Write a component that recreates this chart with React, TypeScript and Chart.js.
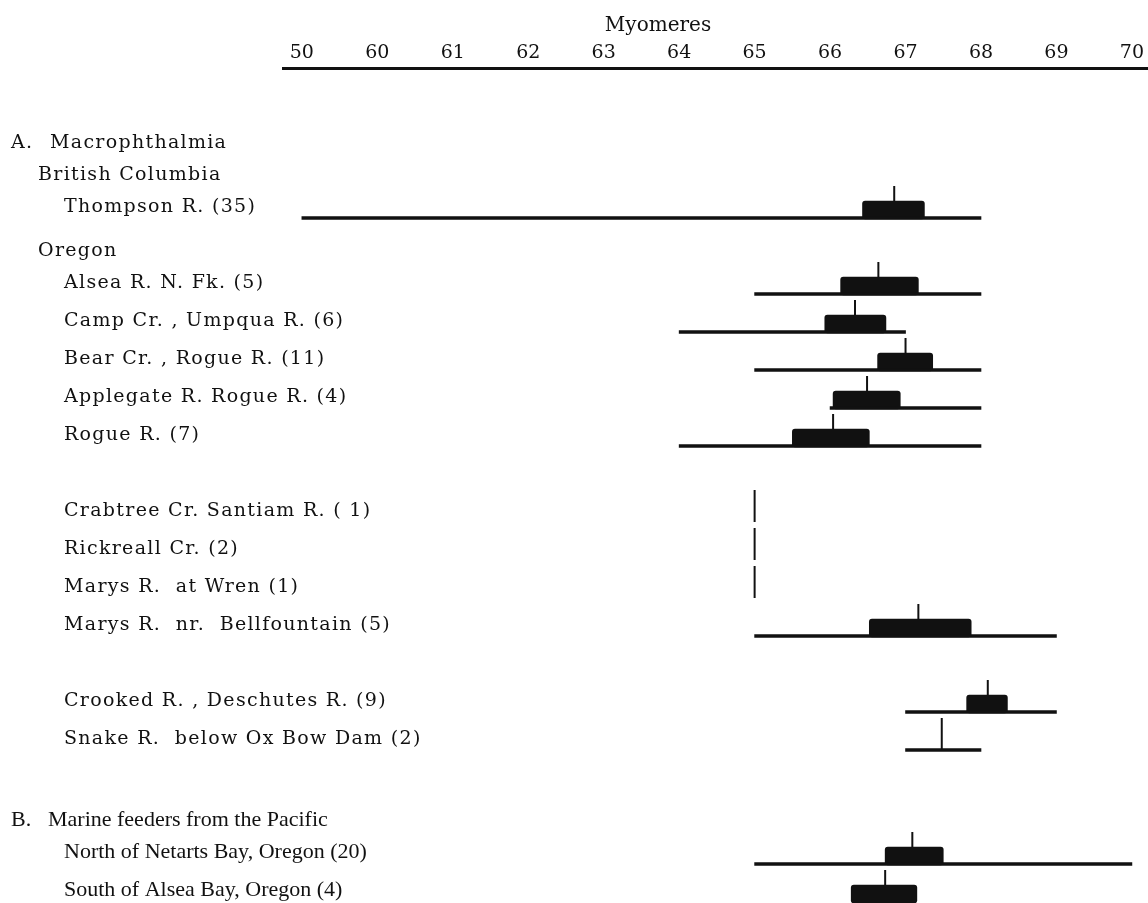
import React, { useEffect, useRef } from "react";
import { Chart, registerables } from "chart.js";

Chart.register(...registerables);

// Myomere scale; the first division is printed "50" on the figure
const TICK_VALUES = [59, 60, 61, 62, 63, 64, 65, 66, 67, 68, 69, 70];
const TICK_LABELS = ["50", "60", "61", "62", "63", "64", "65", "66", "67", "68", "69", "70"];
const AXIS_TITLE = "Myomeres";

// Vertical order of the list; "" is a blank line between groups
const ROWS = [
  "Thompson R. (35)",
  "",
  "Alsea R. N. Fk. (5)",
  "Camp Cr. , Umpqua R. (6)",
  "Bear Cr. , Rogue R. (11)",
  "Applegate R. Rogue R. (4)",
  "Rogue R. (7)",
  "",
  "Crabtree Cr. Santiam R. ( 1)",
  "Rickreall Cr. (2)",
  "Marys R.  at Wren (1)",
  "Marys R.  nr.  Bellfountain (5)",
  "",
  "Crooked R. , Deschutes R. (9)",
  "Snake R.  below Ox Bow Dam (2)",
  "",
  "",
  "North of Netarts Bay, Oregon (20)",
  "South of Alsea Bay, Oregon (4)",
];

const SAMPLES = ROWS.filter((r) => r !== "");

// Per sample, in SAMPLES order: observed range, box, mean
const RANGE_MIN = [59, 65, 64, 65, 66, 64, null, null, null, 65, 67, 67, 65, null];
const RANGE_MAX = [68, 68, 67, 68, 68, 68, null, null, null, 69, 69, 68, 70, null];
const BOX_LOW = [66.43, 66.14, 65.93, 66.63, 66.04, 65.5, null, null, null, 66.52, 67.81, null, 66.73, 66.28];
const BOX_HIGH = [67.25, 67.17, 66.74, 67.36, 66.93, 66.52, null, null, null, 67.87, 68.35, null, 67.5, 67.15];
const MEANS = [66.85, 66.64, 66.33, 67.0, 66.49, 66.04, 65, 65, 65, 67.17, 68.09, 67.48, 67.09, 66.73];
const SECTION = ["A", "A", "A", "A", "A", "A", "A", "A", "A", "A", "A", "A", "B", "B"];

// Group headings, stacked above the first sample of their group
const HEADING_MARKS = ["A.", "", "", "B."];
const HEADING_TEXTS = ["Macrophthalmia", "British Columbia", "Oregon", "Marine feeders from the Pacific"];
const HEADING_BEFORE = [
  "Thompson R. (35)",
  "Thompson R. (35)",
  "Alsea R. N. Fk. (5)",
  "North of Netarts Bay, Oregon (20)",
];
const HEADING_LINES_ABOVE = [2, 1, 1, 1];
const HEADING_SECTION = ["A", "A", "A", "B"];

// Page geometry
const W = 1148;
const H = 903;
const AXIS_BAND = 68;
const ROW_PX = 38;
const FIRST_ROW_Y = 218;
const PLOT_LEFT = 283;
const X_MIN = 58.75;
const X_MAX = 70.2;
const Y_MIN = -(FIRST_ROW_Y - AXIS_BAND) / ROW_PX;
const Y_MAX = Y_MIN + (H - AXIS_BAND) / ROW_PX;

// Mark sizes (px)
const RANGE_PX = 3;
const BOX_PX = 18;
const BOX_LIFT = 8;
const TICK_PX = 32;
const TICK_W = 2;

// Text layout
const INK = "#111111";
const MARK_X = 11;
const HEAD0_X = { A: 50, B: 48 };
const HEAD1_X = 38;
const SAMPLE_X = 64;
const BASELINE_RAISE = 6;
const HEADING_LEADING = 32;
const TITLE_X = 658;
const TITLE_BASELINE = 31;
const FONTS = {
  A: { font: '19px "DejaVu Serif"', spacing: "1.3px" },
  B: { font: '22px "Liberation Serif"', spacing: "0px" },
};

const slotOf = (label: string) => ROWS.indexOf(label);

const rangeData = SAMPLES.flatMap((s, i) =>
  RANGE_MIN[i] == null ? [] : [{ y: slotOf(s), x: [RANGE_MIN[i], RANGE_MAX[i]] }]
);
const boxData = SAMPLES.flatMap((s, i) =>
  BOX_LOW[i] == null ? [] : [{ y: slotOf(s) - BOX_LIFT / ROW_PX, x: [BOX_LOW[i], BOX_HIGH[i]] }]
);
const meanData = SAMPLES.map((s, i) => ({ x: MEANS[i], y: slotOf(s) - TICK_PX / 2 / ROW_PX }));

const listText = {
  id: "listText",
  afterDraw(chart: any) {
    const { ctx } = chart;
    const yScale = chart.scales.y;
    ctx.save();
    ctx.fillStyle = INK;
    ctx.textBaseline = "alphabetic";
    ctx.textAlign = "left";

    const useFont = (key: string) => {
      const f = (FONTS as any)[key];
      ctx.font = f.font;
      (ctx as any).letterSpacing = f.spacing;
    };

    SAMPLES.forEach((label, i) => {
      useFont(SECTION[i]);
      const base = yScale.getPixelForValue(slotOf(label)) - BASELINE_RAISE;
      ctx.fillText(label, SAMPLE_X, base);
    });

    HEADING_TEXTS.forEach((text, i) => {
      useFont(HEADING_SECTION[i]);
      const base =
        yScale.getPixelForValue(slotOf(HEADING_BEFORE[i])) -
        BASELINE_RAISE -
        HEADING_LINES_ABOVE[i] * HEADING_LEADING;
      if (HEADING_MARKS[i]) {
        ctx.fillText(HEADING_MARKS[i], MARK_X, base);
        ctx.fillText(text, (HEAD0_X as any)[HEADING_SECTION[i]], base);
      } else {
        ctx.fillText(text, HEAD1_X, base);
      }
    });

    (ctx as any).letterSpacing = "0px";
    ctx.font = '20px "DejaVu Serif"';
    ctx.textAlign = "center";
    ctx.fillText(AXIS_TITLE, TITLE_X, TITLE_BASELINE);
    ctx.restore();
  },
};

export default function App() {
  const canvasRef = useRef<HTMLCanvasElement | null>(null);

  useEffect(() => {
    const canvas = canvasRef.current;
    if (!canvas) return;
    const chart = new Chart(canvas, {
      type: "bar",
      data: {
        datasets: [
          {
            type: "bar",
            label: "Range",
            indexAxis: "y",
            grouped: false,
            barThickness: RANGE_PX,
            backgroundColor: INK,
            borderWidth: 0,
            data: rangeData as any,
          },
          {
            type: "bar",
            label: "Box",
            indexAxis: "y",
            grouped: false,
            barThickness: BOX_PX,
            backgroundColor: INK,
            borderWidth: 0,
            borderRadius: 3,
            borderSkipped: false,
            data: boxData as any,
          },
          {
            type: "scatter",
            label: "Mean",
            data: meanData,
            pointStyle: "line",
            rotation: 90,
            pointRadius: TICK_PX / 2,
            borderWidth: TICK_W,
            borderColor: INK,
            backgroundColor: INK,
          } as any,
        ],
      },
      options: {
        responsive: false,
        animation: false,
        devicePixelRatio: 1,
        events: [],
        layout: { autoPadding: false, padding: { left: PLOT_LEFT, right: 0, top: 0, bottom: 0 } },
        plugins: { legend: { display: false }, tooltip: { enabled: false }, title: { display: false } },
        scales: {
          x: {
            type: "linear",
            position: "top",
            offset: false,
            min: X_MIN,
            max: X_MAX,
            afterBuildTicks: (scale: any) => {
              scale.ticks = TICK_VALUES.map((v) => ({ value: v }));
            },
            afterFit: (scale: any) => {
              scale.height = AXIS_BAND;
            },
            ticks: {
              autoSkip: false,
              maxRotation: 0,
              padding: 4,
              color: INK,
              font: { family: "'DejaVu Serif', serif", size: 19 },
              callback: (_v: any, i: number) => TICK_LABELS[i],
            },
            grid: { display: false, drawTicks: false, offset: false },
            border: { display: true, color: INK, width: 3 },
          },
          y: {
            type: "linear",
            display: false,
            offset: false,
            reverse: true,
            min: Y_MIN,
            max: Y_MAX,
            grid: { offset: false },
          },
        },
      } as any,
      plugins: [listText],
    });
    return () => chart.destroy();
  }, []);

  return (
    <div
      style={{
        position: "fixed",
        left: 0,
        top: 0,
        width: W,
        height: H,
        background: "#ffffff",
        overflow: "hidden",
      }}
    >
      <canvas ref={canvasRef} width={W} height={H} style={{ display: "block", width: W, height: H }} />
    </div>
  );
}
